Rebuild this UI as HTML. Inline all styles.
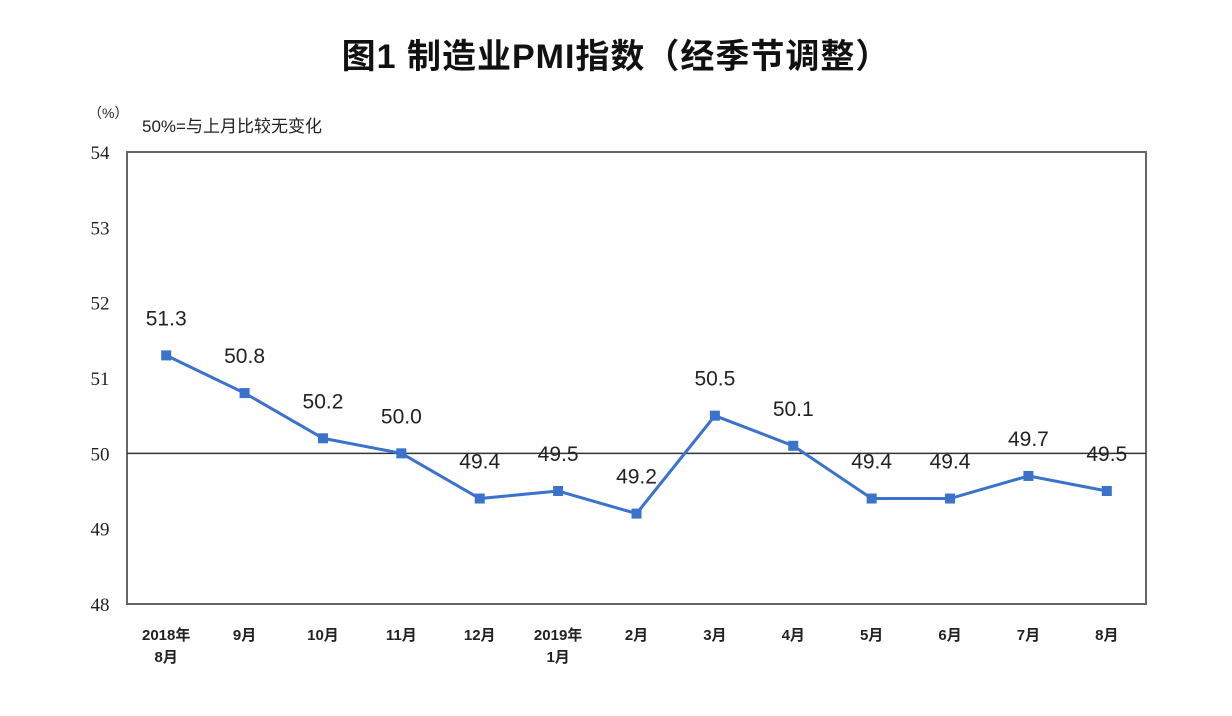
<!DOCTYPE html>
<html><head><meta charset="utf-8"><style>
body{margin:0;background:#fff;}
svg{display:block;font-family:"Liberation Sans","Noto Sans CJK SC",sans-serif;}
</style></head><body>
<svg id="chart" width="1232" height="716" viewBox="0 0 1232 716">
<text x="616" y="68" text-anchor="middle" font-size="34" font-weight="bold" fill="#111" letter-spacing="1" font-family="'Liberation Sans','Noto Sans CJK SC',sans-serif">图1  制造业PMI指数（经季节调整）</text>
<text x="88" y="118" font-size="14" fill="#222">（%）</text>
<text x="142" y="132" font-size="17" fill="#222">50%=与上月比较无变化</text>
<rect x="127" y="152" width="1019" height="452" fill="none" stroke="#666" stroke-width="2"/>
<g id="yt"></g><g id="xt"></g><g id="ln"></g>
</svg>
<script>
const categories=[["2018年","8月"],["9月"],["10月"],["11月"],["12月"],["2019年","1月"],["2月"],["3月"],["4月"],["5月"],["6月"],["7月"],["8月"]];
const values=[51.3,50.8,50.2,50.0,49.4,49.5,49.2,50.5,50.1,49.4,49.4,49.7,49.5];
const labels=["51.3","50.8","50.2","50.0","49.4","49.5","49.2","50.5","50.1","49.4","49.4","49.7","49.5"];
const yTicks=[48,49,50,51,52,53,54];
const NS="http://www.w3.org/2000/svg";
const L=127,R=1146,T=152,B=604,ymin=48,ymax=54;
const y=v=>B-(v-ymin)/(ymax-ymin)*(B-T);
const step=(R-L)/categories.length;
const x=i=>L+step*(i+0.5);
function mk(t,a,p){const e=document.createElementNS(NS,t);for(const k in a)e.setAttribute(k,a[k]);p.appendChild(e);return e;}
const yt=document.getElementById('yt'),xt=document.getElementById('xt'),ln=document.getElementById('ln');
yTicks.forEach(v=>{
 const t=mk('text',{x:100,y:y(v)+7,'text-anchor':'middle','font-size':19,fill:'#222','font-family':"'Liberation Serif',serif"},yt);
 
 
 t.textContent=v;
});
const ref=mk('line',{x1:L,x2:R,y1:y(50),y2:y(50),stroke:'#333','stroke-width':1.5},yt);


categories.forEach((c,i)=>{
 c.forEach((s,j)=>{
  const t=mk('text',{x:x(i),y:640+j*22,'text-anchor':'middle','font-size':15,'font-weight':'bold',fill:'#222'},xt);
  
  
  t.textContent=s;
 });
});
const pl=mk('polyline',{points:values.map((v,i)=>x(i)+','+y(v)).join(' '),fill:'none',stroke:'#3a72cc','stroke-width':3},ln);


values.forEach((v,i)=>{
 const r=mk('rect',{x:x(i)-5,y:y(v)-5,width:10,height:10,fill:'#3a72cc'},ln);
 
 
 const t=mk('text',{x:x(i),y:y(v)-30,'text-anchor':'middle','font-size':21,fill:'#222'},ln);
 
 
 t.textContent=labels[i];
});
</script>
</body></html>
